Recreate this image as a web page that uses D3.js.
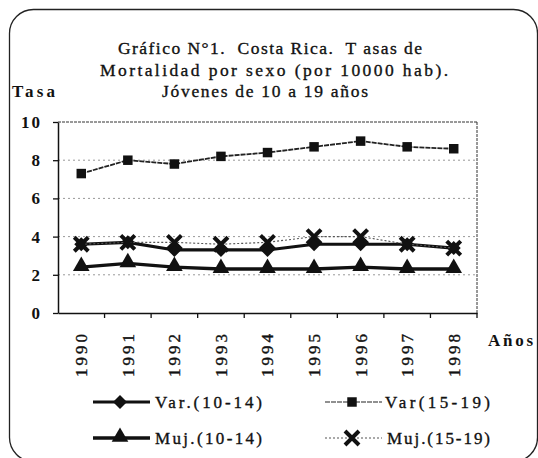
<!DOCTYPE html>
<html lang="es">
<head>
  <meta charset="UTF-8">
  <title>Tasas de Mortalidad por sexo</title>
  <script src="https://cdnjs.cloudflare.com/ajax/libs/d3/7.8.5/d3.min.js"></script>
  <style>
    body { margin: 0; background: white; }
    svg { display: block; background: white; }
    text { font-family: "Liberation Serif", "Times New Roman", serif; fill: #111; font-weight: bold; }
    .heavy { stroke: #111; stroke-width: 0.35px; }
  </style>
</head>
<body>
  <script>
    var years = ["1990", "1991", "1992", "1993", "1994", "1995", "1996", "1997", "1998"];
    var varones1014 = [3.6, 3.7, 3.3, 3.3, 3.3, 3.6, 3.6, 3.6, 3.4];
    var varones1519 = [7.3, 8.0, 7.8, 8.2, 8.4, 8.7, 9.0, 8.7, 8.6];
    var mujeres1014 = [2.4, 2.6, 2.4, 2.3, 2.3, 2.3, 2.4, 2.3, 2.3];
    var mujeres1519 = [3.6, 3.7, 3.7, 3.6, 3.7, 4.0, 4.0, 3.6, 3.4];
    var yTicks = [0, 2, 4, 6, 8, 10];
    var seriesNames = ["Var.(10-14)", "Var(15-19)", "Muj.(10-14)", "Muj.(15-19)"];
    var titleLines = ["Gráfico N°1.  Costa Rica.  T asas de",
                      "Mortalidad por sexo (por 10000 hab).",
                      "Jóvenes de 10 a 19 años"];

    var w = 538, h = 458;
    var plotL = 58, plotR = 477, plotT = 122, plotB = 313;

    var svg = d3.select("body").append("svg")
      .attr("width", w)
      .attr("height", h);

    // frame round the whole chart
    svg.append("rect")
      .attr("x", 9.5).attr("y", 9.5)
      .attr("width", 528).attr("height", 452)
      .attr("rx", 24).attr("ry", 24)
      .attr("fill", "none")
      .attr("stroke", "#222")
      .attr("stroke-width", 1.3);

    // title
    var titleX = [118, 100, 162], titleW = [304, 348, 206], titleY = [54, 76, 97];
    svg.selectAll(".title")
      .data(titleLines)
      .enter()
      .append("text")
      .attr("class", "title heavy")
      .attr("x", function(d, i) { return titleX[i]; })
      .attr("y", function(d, i) { return titleY[i]; })
      .attr("textLength", function(d, i) { return titleW[i]; })
      .attr("lengthAdjust", "spacing")
      .style("font-size", "17.5px")
      .style("font-weight", "normal")
      .style("white-space", "pre")
      .text(function(d) { return d; });

    var xScale = d3.scaleBand()
      .domain(years)
      .range([plotL, plotR]);

    var yScale = d3.scaleLinear()
      .domain([0, 10])
      .range([plotB, plotT]);

    // gridlines
    svg.selectAll(".grid")
      .data(yTicks.filter(function(d) { return d > 0; }))
      .enter()
      .append("line")
      .attr("x1", plotL).attr("x2", plotR)
      .attr("y1", function(d) { return yScale(d); })
      .attr("y2", function(d) { return yScale(d); })
      .attr("stroke", function(d) { return d == 10 ? "#333" : "#999"; })
      .attr("stroke-width", 1)
      .attr("stroke-dasharray", function(d) { return d == 10 ? "3,1" : "2,3"; });

    svg.append("line")
      .attr("x1", plotR).attr("x2", plotR)
      .attr("y1", plotT).attr("y2", plotB)
      .attr("stroke", "#333")
      .attr("stroke-dasharray", "3,1");

    // axes
    var yAxis = svg.append("g")
      .attr("transform", "translate(" + plotL + ",0)")
      .call(d3.axisLeft(yScale).tickValues(yTicks).tickSize(5).tickSizeOuter(0).tickFormat(d3.format("d")));
    yAxis.select(".domain").attr("stroke", "#111").attr("stroke-width", 1.5);
    yAxis.selectAll(".tick line").attr("stroke", "#111").attr("stroke-width", 1.3);
    yAxis.selectAll("text")
      .attr("x", -16)
      .style("font-family", "Liberation Serif, serif")
      .style("font-size", "17px")
      .style("font-weight", "bold")
      .style("letter-spacing", "2px")
      .attr("fill", "#111");

    var xAxis = svg.append("g")
      .attr("transform", "translate(0," + plotB + ")")
      .call(d3.axisBottom(xScale).tickSize(0).tickSizeOuter(0));
    xAxis.select(".domain").attr("stroke", "#111").attr("stroke-width", 1.5);
    xAxis.selectAll("text")
      .attr("class", "heavy")
      .attr("transform", "rotate(-90)")
      .attr("x", -18)
      .attr("y", 0)
      .attr("dy", "0.35em")
      .style("text-anchor", "end")
      .style("font-family", "Liberation Serif, serif")
      .style("font-size", "17px")
      .style("font-weight", "normal")
      .style("letter-spacing", "3px")
      .attr("fill", "#111");

    // tick marks between categories
    svg.selectAll(".xtick")
      .data(years)
      .enter()
      .append("line")
      .attr("x1", function(d) { return xScale(d) + xScale.bandwidth(); })
      .attr("x2", function(d) { return xScale(d) + xScale.bandwidth(); })
      .attr("y1", plotB).attr("y2", plotB + 5)
      .attr("stroke", "#111").attr("stroke-width", 1.3);

    svg.append("text")
      .attr("x", 12).attr("y", 97)
      .attr("textLength", 43)
      .attr("lengthAdjust", "spacing")
      .style("font-size", "17px")
      .text("Tasa");

    svg.append("text")
      .attr("x", 488).attr("y", 346)
      .attr("textLength", 45)
      .attr("lengthAdjust", "spacing")
      .style("font-size", "17px")
      .text("Años");

    // markers
    function marker(g, kind, x, y) {
      if (kind == "diamond") {
        g.append("path")
          .attr("d", "M0,-7L7,0L0,7L-7,0Z")
          .attr("transform", "translate(" + x + "," + y + ")")
          .attr("fill", "#111");
      } else if (kind == "square") {
        g.append("path")
          .attr("d", d3.symbol().type(d3.symbolSquare).size(90)())
          .attr("transform", "translate(" + x + "," + y + ")")
          .attr("fill", "#111");
      } else if (kind == "triangle") {
        g.append("path")
          .attr("d", d3.symbol().type(d3.symbolTriangle).size(120)())
          .attr("transform", "translate(" + x + "," + (y - 1) + ")")
          .attr("fill", "#111");
      } else {
        g.append("path")
          .attr("d", "M-7,-7L7,7M-7,7L7,-7")
          .attr("transform", "translate(" + x + "," + y + ")")
          .attr("stroke", "#111")
          .attr("stroke-width", 4);
      }
    }

    var series = [
      { name: seriesNames[0], values: varones1014, kind: "diamond", width: 3.2, dash: null, color: "#111" },
      { name: seriesNames[1], values: varones1519, kind: "square", width: 1.8, dash: "5,1", color: "#222" },
      { name: seriesNames[2], values: mujeres1014, kind: "triangle", width: 3.4, dash: null, color: "#111" },
      { name: seriesNames[3], values: mujeres1519, kind: "cross", width: 1.1, dash: "2,2", color: "#555" }
    ];

    var line = d3.line()
      .x(function(d, i) { return xScale(years[i]) + xScale.bandwidth() / 2; })
      .y(function(d) { return yScale(d); });

    series.forEach(function(s) {
      var g = svg.append("g");
      g.append("path")
        .attr("d", line(s.values))
        .attr("fill", "none")
        .attr("stroke", s.color)
        .attr("stroke-width", s.width)
        .attr("stroke-dasharray", s.dash);
      s.values.forEach(function(v, i) {
        marker(g, s.kind, xScale(years[i]) + xScale.bandwidth() / 2, yScale(v));
      });
    });

    // legend
    var legX = [93, 325, 93, 325], legY = [402, 402, 438, 438];
    var legTextX = [155, 385, 155, 387], legTextW = [107, 105, 107, 103];
    series.forEach(function(s, i) {
      var g = svg.append("g");
      g.append("line")
        .attr("x1", legX[i]).attr("x2", legX[i] + 57)
        .attr("y1", legY[i]).attr("y2", legY[i])
        .attr("stroke", s.color)
        .attr("stroke-width", i == 1 ? 1.2 : s.width)
        .attr("stroke-dasharray", s.dash);
      marker(g, s.kind, legX[i] + 27, legY[i]);
      g.append("text")
        .attr("class", "heavy")
        .attr("x", legTextX[i])
        .attr("y", legY[i] + 6)
        .attr("textLength", legTextW[i])
        .attr("lengthAdjust", "spacing")
        .style("font-size", "17px")
        .style("font-weight", "normal")
        .text(s.name);
    });
  </script>
</body>
</html>
